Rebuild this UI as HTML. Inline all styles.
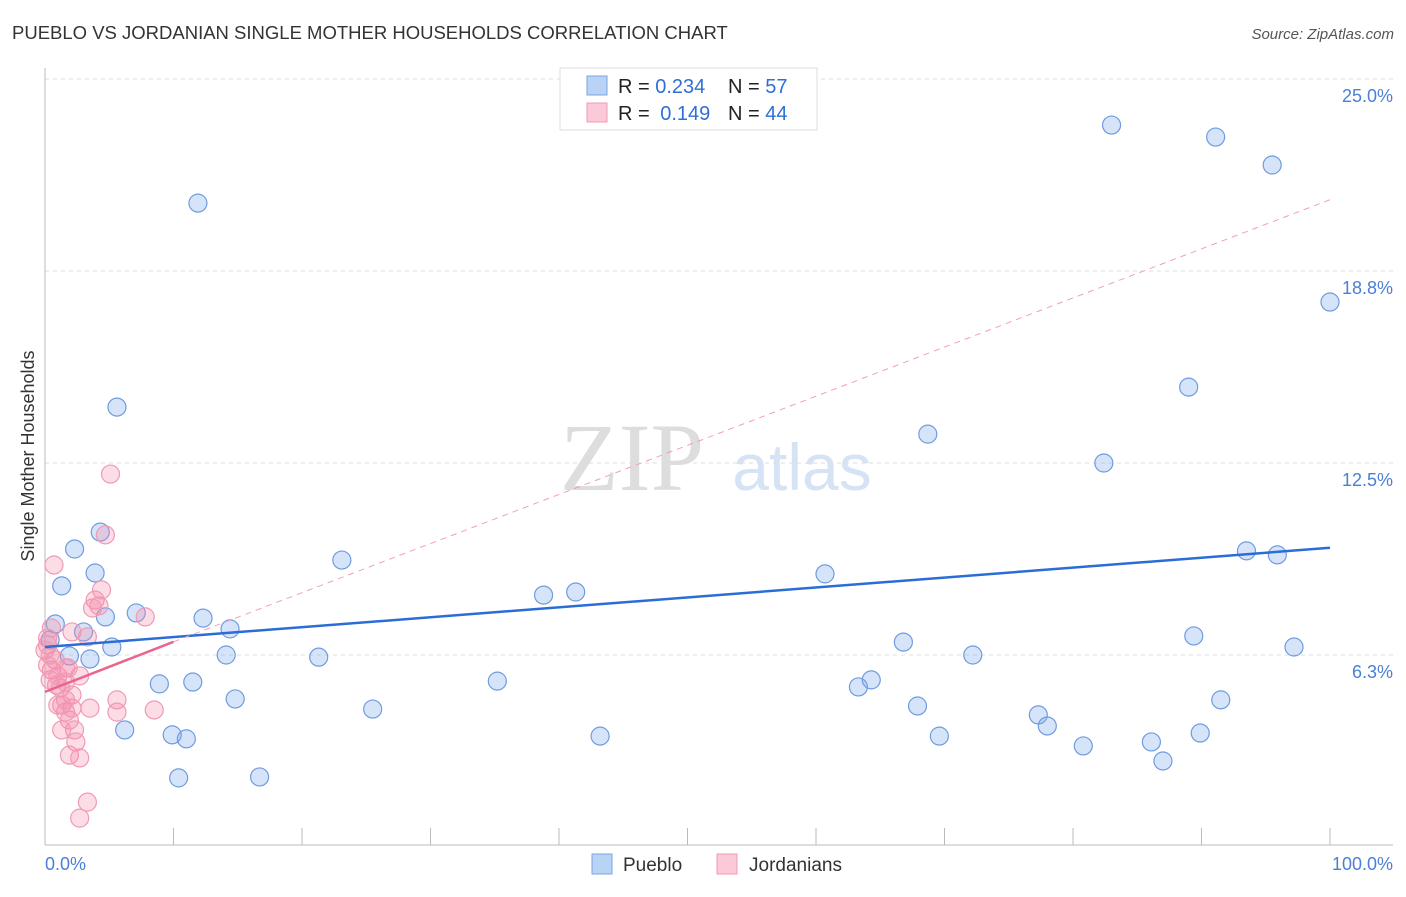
<!DOCTYPE html>
<html><head><meta charset="utf-8"><style>
body{margin:0;background:#fff;font-family:"Liberation Sans",sans-serif}
svg text{font-family:"Liberation Sans",sans-serif}
</style></head><body>
<svg id="c" width="1406" height="892">
<text x="12" y="39" font-size="18.5" fill="#333">PUEBLO VS JORDANIAN SINGLE MOTHER HOUSEHOLDS CORRELATION CHART</text>
<text x="1394" y="39" font-size="15" fill="#555" font-style="italic" text-anchor="end">Source: ZipAtlas.com</text>
<text transform="translate(34,456) rotate(-90)" font-size="18" fill="#333" text-anchor="middle">Single Mother Households</text>
<g>
<text x="632" y="490" font-size="96" fill="#ddd" font-family="Liberation Serif" text-anchor="middle" style="font-family:'Liberation Serif',serif">ZIP</text>
<text x="802" y="490" font-size="66" fill="#d6e3f5" text-anchor="middle">atlas</text>
</g>
<g id="grid"></g><g id="axes"></g><g id="pts"></g><g id="lines"></g>
<g>
<rect x="560" y="68" width="257" height="62" fill="#fff" stroke="#ddd"/>
<rect x="587" y="76" width="20" height="19" fill="#b9d3f5" stroke="#7aa5e3"/>
<rect x="587" y="103" width="20" height="19" fill="#fbc9d8" stroke="#f09ab5"/>
<text x="618" y="93" font-size="20" fill="#222">R = <tspan fill="#2f6fd6">0.234</tspan></text>
<text x="728" y="93" font-size="20" fill="#222">N = <tspan fill="#2f6fd6">57</tspan></text>
<text x="618" y="120" font-size="20" fill="#222">R = <tspan fill="#2f6fd6" dx="5">0.149</tspan></text>
<text x="728" y="120" font-size="20" fill="#222">N = <tspan fill="#2f6fd6">44</tspan></text>
</g>
<g>
<rect x="592" y="854" width="20" height="20" fill="#b9d3f5" stroke="#7aa5e3"/>
<text x="623" y="871" font-size="19" fill="#333">Pueblo</text>
<rect x="717" y="854" width="20" height="20" fill="#fbc9d8" stroke="#f09ab5"/>
<text x="749" y="871" font-size="19" fill="#333">Jordanians</text>
</g>
<text x="45" y="870" font-size="18" fill="#4a7fd6">0.0%</text>
<text x="1393" y="870" font-size="18" fill="#4a7fd6" text-anchor="end">100.0%</text>
</svg>
<script>
const yTicks=[6.25,12.5,18.75,25];
const yTickLabels=["6.3%","12.5%","18.8%","25.0%"];
const puebloX=[11.9,5.6,4.3,2.3,1.3,3.9,4.7,7.1,0.8,3.0,5.2,3.5,1.9,0.4,12.3,14.4,14.1,21.3,23.1,8.9,11.5,14.8,25.5,9.9,11.0,6.2,10.4,16.7,35.2,38.8,41.3,43.2,60.7,63.3,64.3,66.8,67.9,68.7,69.6,72.2,77.3,78.0,80.8,82.4,83.0,86.1,87.0,89.0,89.4,89.9,91.1,91.5,93.5,95.5,95.9,97.2,100];
const puebloY=[20.96,14.32,10.25,9.70,8.50,8.92,7.49,7.62,7.26,7.00,6.51,6.12,6.22,6.74,7.45,7.10,6.25,6.18,9.34,5.31,5.37,4.82,4.49,3.65,3.52,3.81,2.25,2.28,5.40,8.20,8.30,3.61,8.89,5.21,5.44,6.67,4.59,13.44,3.61,6.25,4.30,3.94,3.29,12.50,23.50,3.42,2.80,14.97,6.87,3.71,23.11,4.79,9.64,22.20,9.51,6.51,17.74];
const jordX=[5.1,4.7,0.7,4.4,3.9,4.2,3.7,7.8,2.1,3.3,0.5,0.2,0.8,1.6,2.7,0.5,0.9,1.2,2.1,1.3,1.6,1.9,2.1,3.5,5.6,5.6,8.5,2.3,1.3,2.4,1.9,2.7,3.3,2.7,0.2,0.4,1.0,1.8,0.0,0.4,1.6,1.0,0.2,1.6];
const jordY=[12.14,10.16,9.18,8.37,8.04,7.85,7.78,7.49,7.00,6.84,7.13,6.58,6.09,5.83,5.57,5.76,5.27,5.18,4.95,4.62,4.39,4.13,4.52,4.52,4.79,4.39,4.46,3.81,3.81,3.42,2.99,2.90,1.46,0.94,6.80,5.44,5.57,5.83,6.41,6.25,4.79,4.62,5.92,5.37];
const puebloTrend=[6.51,9.74];
const jordTrend=[5.05,6.68,21.07];
const NS="http://www.w3.org/2000/svg";
const xs=v=>45+v*12.85, ys=v=>847-v*30.72;
function mk(p,t,a){const e=document.createElementNS(NS,t);for(const k in a)e.setAttribute(k,a[k]);p.appendChild(e);return e;}
const grid=document.getElementById('grid'),axes=document.getElementById('axes');
yTicks.forEach((t,i)=>{
 const l=mk(grid,'line',{x1:45,x2:1393,y1:ys(t),y2:ys(t),stroke:'#ddd','stroke-dasharray':'4,4'});
 
 
 const tx=mk(grid,'text',{x:1393,y:ys(t)+23,'font-size':18,fill:'#4a7fd6','text-anchor':'end'});
 tx.textContent=yTickLabels[i];
 
 
});
mk(axes,'line',{x1:45,x2:45,y1:68,y2:845,stroke:'#bbb'});
mk(axes,'line',{x1:45,x2:1393,y1:845,y2:845,stroke:'#bbb'});
for(let i=0;i<=10;i++){const t=mk(axes,'line',{x1:xs(i*10),x2:xs(i*10),y1:828,y2:845,stroke:'#bbb'});
 
 }
const pts=document.getElementById('pts');
puebloX.forEach((x,i)=>{const c=mk(pts,'circle',{cx:xs(x),cy:ys(puebloY[i]),r:9,fill:'rgba(120,165,235,0.3)',stroke:'#6f9be0','stroke-width':1.2});
 
 });
jordX.forEach((x,i)=>{const c=mk(pts,'circle',{cx:xs(x),cy:ys(jordY[i]),r:9,fill:'rgba(245,140,170,0.3)',stroke:'#f09ab5','stroke-width':1.2});
 
 });
const L=document.getElementById('lines');
const b=mk(L,'line',{x1:xs(0),y1:ys(puebloTrend[0]),x2:xs(100),y2:ys(puebloTrend[1]),stroke:'#2a6dd6','stroke-width':2.5});


const pd=mk(L,'line',{x1:xs(10),y1:ys(jordTrend[1]),x2:xs(100),y2:ys(jordTrend[2]),stroke:'#f0a0b8','stroke-width':1,'stroke-dasharray':'6,5'});


const p=mk(L,'line',{x1:xs(0),y1:ys(jordTrend[0]),x2:xs(10),y2:ys(jordTrend[1]),stroke:'#e8658f','stroke-width':2.5});


</script>
</body></html>
